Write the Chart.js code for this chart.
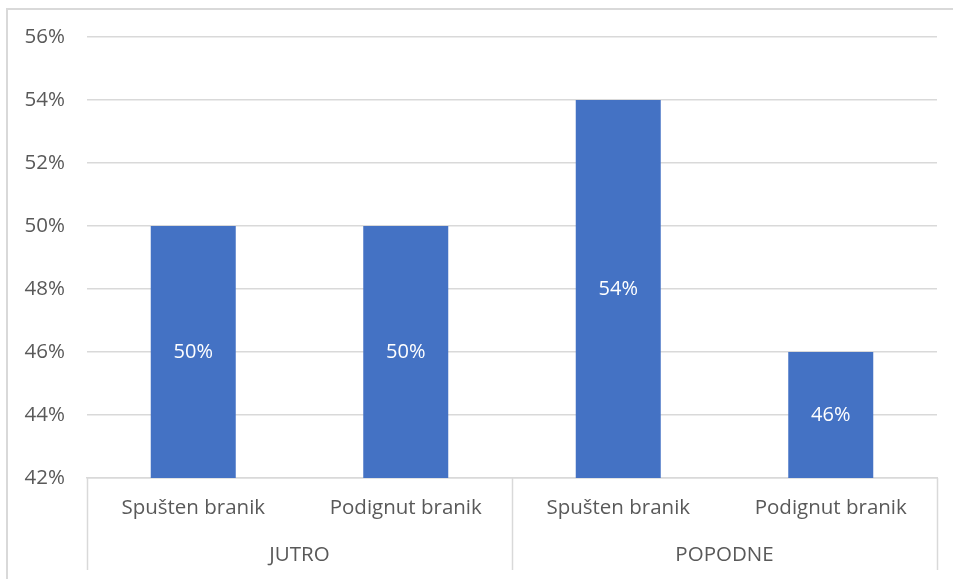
<!DOCTYPE html>
<html>
<head>
<meta charset="utf-8">
<script src="https://cdn.jsdelivr.net/npm/chart.js@4"></script>
<style>
  body { margin: 0; background: #fff; }
  #wrap { position: relative; width: 953px; height: 579px; }
  #frame { position: absolute; left: 6px; top: 8px; right: 0; bottom: 0;
           border-left: 2px solid #d9d9d9; border-top: 2px solid #d9d9d9; pointer-events: none; }
</style>
</head>
<body>
<div id="wrap">
  <canvas id="stupci" width="953" height="579"></canvas>
  <div id="frame"></div>
</div>
<script>
const grupe = ['JUTRO', 'POPODNE'];
const polozaji = ['Spušten branik', 'Podignut branik', 'Spušten branik', 'Podignut branik'];
const udjeli = [50, 50, 54, 46];
const yMin = 42;
const yMax = 56;
const yKorak = 2;

const sivaLinija = '#d9d9d9';
const sivaSlova = '#595959';
const font = { family: 'Open Sans', size: 20.5 };

// vrijednosti u sredini stupaca i okomite crte između grupa ispod osi
const dodaci = {
    id: 'dodaci',
    afterDraw(chart) {
        const ctx = chart.ctx;
        const xs = chart.scales.x;
        const ys = chart.scales.y;
        const x2 = chart.scales.x2;

        ctx.save();
        ctx.fillStyle = '#ffffff';
        ctx.font = '20px "Open Sans", sans-serif';
        ctx.textAlign = 'center';
        ctx.textBaseline = 'middle';
        udjeli.forEach((v, i) => {
            const cx = xs.getPixelForValue(i);
            const cy = (ys.getPixelForValue(v) + ys.getPixelForValue(yMin)) / 2;
            ctx.fillText(v + '%', cx, cy);
        });
        ctx.restore();

        const top = chart.chartArea.bottom;
        const dno = x2.bottom;
        const sirina = (x2.right - x2.left) / grupe.length;
        ctx.save();
        ctx.strokeStyle = sivaLinija;
        ctx.lineWidth = 1.5;
        for (let i = 0; i <= grupe.length; i++) {
            const x = Math.round(x2.left + i * sirina) + 0.5;
            ctx.beginPath();
            ctx.moveTo(x, top);
            ctx.lineTo(x, dno);
            ctx.stroke();
        }
        ctx.restore();
    }
};

new Chart(document.getElementById('stupci'), {
    type: 'bar',
    data: {
        labels: polozaji,
        datasets: [{
            data: udjeli,
            backgroundColor: '#4472c4',
            barPercentage: 0.4,
            categoryPercentage: 1
        }]
    },
    options: {
        responsive: false,
        animation: false,
        layout: { padding: { left: 8, top: 37, right: 16, bottom: 9 } },
        plugins: {
            legend: { display: false },
            tooltip: { enabled: false }
        },
        scales: {
            y: {
                min: yMin,
                max: yMax,
                afterFit(scale) { scale.width = 79; },
                ticks: {
                    stepSize: yKorak,
                    color: sivaSlova,
                    font: font,
                    padding: 22,
                    callback: v => v + '%'
                },
                grid: { color: sivaLinija, lineWidth: 1.5, drawTicks: false },
                border: { display: false }
            },
            x: {
                afterFit(scale) { scale.height = 52; },
                ticks: { color: sivaSlova, font: font, padding: 18, maxRotation: 0 },
                grid: { display: false, drawTicks: false },
                border: { color: sivaLinija, width: 1.5 }
            },
            x2: {
                type: 'category',
                labels: grupe,
                position: 'bottom',
                offset: true,
                afterFit(scale) { scale.height = 40; },
                ticks: { color: sivaSlova, font: font, padding: 13, maxRotation: 0 },
                grid: { display: false, drawTicks: false },
                border: { display: false }
            }
        }
    },
    plugins: [dodaci]
});
</script>
</body>
</html>
